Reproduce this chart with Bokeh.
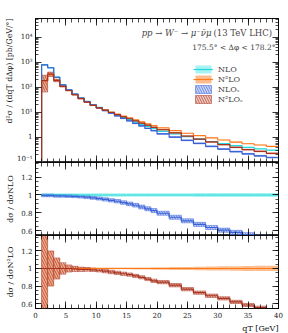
from bokeh.plotting import figure
from bokeh.layouts import column
from bokeh.models import (Range1d, LogAxis, LinearAxis, FixedTicker, CustomJSTickFormatter,
                          Label, Legend, LegendItem, Title)
from bokeh.embed import file_html
from bokeh.resources import INLINE

# ---------------- data ----------------
edges = [1, 2, 3, 4, 5, 6, 7, 8, 9, 10, 11, 12, 13, 14, 15, 16, 17, 18, 19, 20,
         22, 24, 26, 28, 30, 32, 34, 36, 38, 40]

nlo = [800, 610, 255, 127, 80, 54, 38, 27.5, 20.5, 15.8, 12.5, 10.0, 7.8, 6.3, 5.1,
       4.1, 3.35, 2.75, 2.25, 1.75, 1.37, 1.08, 0.86, 0.69, 0.57, 0.47, 0.40, 0.35, 0.31]
n2lo = [185, 340, 190, 110, 75, 51, 36, 26, 19.5, 15.5, 12.7, 10.3, 8.5, 7.1, 6.0,
        5.0, 4.15, 3.5, 2.95, 2.4, 1.87, 1.47, 1.18, 0.96, 0.79, 0.65, 0.56, 0.50, 0.44]

ratio_nlo_s = [0.995, 0.995, 0.99, 0.99, 0.988, 0.985, 0.98, 0.975, 0.968, 0.96, 0.95,
               0.94, 0.93, 0.915, 0.90, 0.885, 0.865, 0.845, 0.825, 0.795, 0.75, 0.71,
               0.67, 0.635, 0.605, 0.58, 0.555, 0.53, 0.51]
ratio_n2lo_s = [1.0, 1.0, 1.0, 1.0, 1.0, 0.995, 0.99, 0.99, 0.985, 0.98, 0.97, 0.96,
                0.95, 0.94, 0.93, 0.915, 0.90, 0.88, 0.86, 0.845, 0.81, 0.765, 0.725,
                0.69, 0.66, 0.62, 0.585, 0.555, 0.525]

rel_nlo = [0.02, 0.02, 0.02, 0.02, 0.02, 0.02, 0.02, 0.02, 0.02, 0.02, 0.02, 0.02, 0.02,
           0.02, 0.02, 0.02, 0.02, 0.02, 0.02, 0.02, 0.02, 0.02, 0.022, 0.022, 0.022,
           0.022, 0.022, 0.022, 0.022]
rel_n2lo = [0.6, 0.2, 0.11, 0.05, 0.03, 0.02, 0.015, 0.012, 0.01, 0.01, 0.01, 0.01, 0.01,
            0.01, 0.01, 0.012, 0.012, 0.012, 0.014, 0.015, 0.016, 0.018, 0.02, 0.022,
            0.024, 0.026, 0.028, 0.03, 0.03]
rel_nlo_s = [0.015, 0.015, 0.015, 0.015, 0.015, 0.015, 0.015, 0.016, 0.017, 0.018, 0.019,
             0.02, 0.021, 0.022, 0.023, 0.024, 0.025, 0.026, 0.027, 0.028, 0.03, 0.032,
             0.034, 0.036, 0.038, 0.04, 0.04, 0.04, 0.04]
rel_n2lo_s = [0.65, 0.2, 0.12, 0.065, 0.04, 0.03, 0.025, 0.022, 0.02, 0.02, 0.02, 0.02,
              0.02, 0.02, 0.02, 0.02, 0.02, 0.02, 0.022, 0.022, 0.024, 0.025, 0.026,
              0.027, 0.028, 0.03, 0.03, 0.03, 0.03]

x_ticks = [0, 5, 10, 15, 20, 25, 30, 35, 40]
main_ticks = [0.1, 1, 10, 100, 1000, 10000]
ratio_ticks = [0.6, 0.8, 1.0, 1.2]

legend_labels = ["NLO", "N²LO", "NLOₛ", "N²LOₛ"]
title_italic = "pp → W⁻ → μ⁻ν̄μ"
title_roman = "(13 TeV LHC)"
cut_text = "175.5° < Δφ < 178.2°"
ylab_main = "d²σ / (dqT dΔφ) [pb/GeV/°]"
ylab_r1 = "dσ / dσNLO"
ylab_r2 = "dσ / dσN²LO"
xlab = "qT [GeV]"

# ---------------- style ----------------
FONT = "DejaVu Serif"
C_NLO, C_NLO_F = "#22d8d8", "#8ff0f0"
C_N2LO, C_N2LO_F = "#ff7a1a", "#fbb27a"
C_NLOS, C_NLOS_F = "#3a62d8", "#9fb4f0"
C_N2LOS, C_N2LOS_F = "#a8321e", "#e6a08e"

left = edges[:-1]
right = edges[1:]


def step_xy(vals, floor=None):
    xs, ys = [], []
    if floor is not None:
        xs.append(edges[0]); ys.append(floor)
    for i, v in enumerate(vals):
        xs += [edges[i], edges[i + 1]]
        ys += [v, v]
    return xs, ys


x_range = Range1d(0, 40)
log_fmt = CustomJSTickFormatter(code="""
const e = Math.round(Math.log10(tick));
if (e == 0) return "1";
const sup = {"-":"\u207b","0":"\u2070","1":"\u00b9","2":"\u00b2","3":"\u00b3","4":"\u2074",
             "5":"\u2075","6":"\u2076","7":"\u2077","8":"\u2078","9":"\u2079"};
return "10" + String(e).split("").map(c => sup[c]).join("");
""")
lin_fmt = CustomJSTickFormatter(code="return String(Number(tick.toFixed(2)));")
blank_fmt = CustomJSTickFormatter(code="return '';")
x_ticker = FixedTicker(ticks=x_ticks, minor_ticks=list(range(0, 41)))
main_ticker = FixedTicker(ticks=main_ticks,
                          minor_ticks=[m * 10 ** e for e in range(-1, 5) for m in range(2, 10)])
ratio_ticker = FixedTicker(ticks=ratio_ticks,
                           minor_ticks=[round(0.55 + 0.05 * i, 2) for i in range(17)])


def style_axis(ax, labels=True, major=6, minor=3):
    ax.axis_line_color = "black"
    ax.axis_line_width = 0.8
    ax.major_tick_in = major
    ax.major_tick_out = 0
    ax.minor_tick_in = minor
    ax.minor_tick_out = 0
    ax.major_tick_line_width = 0.8
    ax.minor_tick_line_width = 0.7
    ax.major_label_text_font = FONT
    ax.major_label_text_font_size = "7px"
    ax.major_label_text_color = "#222222"
    ax.major_label_standoff = 3
    ax.axis_label_text_font = FONT
    ax.axis_label_text_font_style = "normal"
    ax.axis_label_text_font_size = "8px"
    ax.axis_label_text_color = "#111111"
    ax.axis_label_standoff = 3
    if not labels:
        ax.formatter = blank_fmt
        ax.major_label_text_font_size = "1px"
        ax.major_label_standoff = 0


def make_title(text, align, size):
    return Title(text=text, align=align, text_font=FONT, text_font_size=size,
                 text_font_style="normal", text_color="#111111", standoff=2, offset=0)


def make_fig(height, y_range, y_type, b_top, b_bottom):
    p = figure(width=288, height=height, x_range=x_range, y_range=y_range,
               y_axis_type=y_type, output_backend="svg", toolbar_location=None,
               min_border_left=35, min_border_right=10,
               min_border_top=b_top, min_border_bottom=b_bottom)
    p.xgrid.visible = False
    p.ygrid.visible = False
    p.outline_line_color = "black"
    p.outline_line_width = 0.8
    return p


def add_axes(p, yticker, yfmt, logy, xlabels):
    p.xaxis.ticker = x_ticker
    style_axis(p.xaxis[0], labels=xlabels, major=7, minor=4)
    p.yaxis.ticker = yticker
    p.yaxis.formatter = yfmt
    style_axis(p.yaxis[0])
    top = LinearAxis(ticker=x_ticker)
    style_axis(top, labels=False, major=7, minor=4)
    p.add_layout(top, "above")
    r = LogAxis(ticker=yticker) if logy else LinearAxis(ticker=yticker)
    style_axis(r, labels=False)
    p.add_layout(r, "right")


# ---------------- main panel ----------------
p1 = make_fig(162, Range1d(0.1, 5.6e4), "log", 18, 0)
add_axes(p1, main_ticker, log_fmt, True, False)
p1.add_layout(make_title(ylab_main, "right", "7.8px"), "left")

nlo_s = [a * b for a, b in zip(nlo, ratio_nlo_s)]
n2lo_s = [a * b for a, b in zip(n2lo, ratio_n2lo_s)]

b_nlo = p1.quad(left=left, right=right, bottom=[v * (1 - e) for v, e in zip(nlo, rel_nlo)],
                top=[v * (1 + e) for v, e in zip(nlo, rel_nlo)],
                fill_color=C_NLO_F, fill_alpha=0.8, line_color=None)
b_n2lo = p1.quad(left=left, right=right, bottom=[v * (1 - e) for v, e in zip(n2lo, rel_n2lo)],
                 top=[v * (1 + e) for v, e in zip(n2lo, rel_n2lo)],
                 fill_color=C_N2LO_F, fill_alpha=0.85, line_color=None)
b_nlos = p1.quad(left=left, right=right, bottom=[v * (1 - e) for v, e in zip(nlo_s, rel_nlo_s)],
                 top=[v * (1 + e) for v, e in zip(nlo_s, rel_nlo_s)],
                 fill_color=C_NLOS_F, fill_alpha=0.5, line_color=C_NLOS, line_width=0.5,
                 hatch_pattern="\\", hatch_color=C_NLOS, hatch_scale=5, hatch_weight=0.7)
b_n2los = p1.quad(left=left, right=right, bottom=[v * (1 - e) for v, e in zip(n2lo_s, rel_n2lo_s)],
                  top=[v * (1 + e) for v, e in zip(n2lo_s, rel_n2lo_s)],
                  fill_color=C_N2LOS_F, fill_alpha=0.5, line_color=C_N2LOS, line_width=0.5,
                  hatch_pattern="\\", hatch_color=C_N2LOS, hatch_scale=5, hatch_weight=0.7)

xs, ys = step_xy(nlo, 1e-3)
l_nlo = p1.line(xs, ys, line_color=C_NLO, line_width=1.2)
xs, ys = step_xy(n2lo, 1e-3)
l_n2lo = p1.line(xs, ys, line_color=C_N2LO, line_width=1.2)
xs, ys = step_xy(nlo_s, 1e-3)
l_nlos = p1.line(xs, ys, line_color=C_NLOS, line_width=1.2)
xs, ys = step_xy(n2lo_s, 1e-3)
l_n2los = p1.line(xs, ys, line_color=C_N2LOS, line_width=1.2)

legend = Legend(items=[
    LegendItem(label=legend_labels[0], renderers=[b_nlo, l_nlo]),
    LegendItem(label=legend_labels[1], renderers=[b_n2lo, l_n2lo]),
    LegendItem(label=legend_labels[2], renderers=[b_nlos]),
    LegendItem(label=legend_labels[3], renderers=[b_n2los]),
], location=(158, 58), orientation="vertical")
legend.background_fill_alpha = 0
legend.border_line_color = None
legend.padding = 0
legend.margin = 0
legend.spacing = 0
legend.glyph_width = 20
legend.glyph_height = 10
legend.label_height = 10
legend.label_standoff = 5
legend.label_text_font = FONT
legend.label_text_font_size = "8px"
legend.label_text_baseline = "middle"
p1.add_layout(legend, "center")

p1.add_layout(Label(x=176, y=130, x_units="screen", y_units="screen", text=title_italic,
                    text_align="right", text_baseline="middle", text_font=FONT,
                    text_font_size="8.5px", text_font_style="italic"))
p1.add_layout(Label(x=178, y=130, x_units="screen", y_units="screen", text=title_roman,
                    text_align="left", text_baseline="middle", text_font=FONT,
                    text_font_size="8.5px"))
p1.add_layout(Label(x=240, y=115, x_units="screen", y_units="screen", text=cut_text,
                    text_align="right", text_baseline="middle", text_font=FONT,
                    text_font_size="7.5px"))

# ---------------- ratio panel 1 (NLO) ----------------
p2 = make_fig(73, Range1d(0.545, 1.365), "linear", 0, 0)
add_axes(p2, ratio_ticker, lin_fmt, False, False)
p2.yaxis[0].axis_label = ylab_r1
p2.quad(left=left, right=right, bottom=[1 - e for e in rel_nlo], top=[1 + e for e in rel_nlo],
        fill_color=C_NLO_F, fill_alpha=0.8, line_color=None)
p2.quad(left=left, right=right, bottom=[r * (1 - e) for r, e in zip(ratio_nlo_s, rel_nlo_s)],
        top=[r * (1 + e) for r, e in zip(ratio_nlo_s, rel_nlo_s)],
        fill_color=C_NLOS_F, fill_alpha=0.5, line_color=C_NLOS, line_width=0.5,
        hatch_pattern="\\", hatch_color=C_NLOS, hatch_scale=5, hatch_weight=0.7)
xs, ys = step_xy([1.0] * len(nlo))
p2.line(xs, ys, line_color=C_NLO, line_width=1.2)
xs, ys = step_xy(ratio_nlo_s)
p2.line(xs, ys, line_color=C_NLOS, line_width=1.2)

# ---------------- ratio panel 2 (N2LO) ----------------
p3 = make_fig(98, Range1d(0.545, 1.375), "linear", 0, 25)
add_axes(p3, ratio_ticker, lin_fmt, False, True)
p3.yaxis[0].axis_label = ylab_r2
p3.add_layout(make_title(xlab, "right", "8px"), "below")
p3.quad(left=left, right=right, bottom=[1 - e for e in rel_n2lo], top=[1 + e for e in rel_n2lo],
        fill_color=C_N2LO_F, fill_alpha=0.85, line_color=None)
p3.quad(left=left, right=right, bottom=[r * (1 - e) for r, e in zip(ratio_n2lo_s, rel_n2lo_s)],
        top=[r * (1 + e) for r, e in zip(ratio_n2lo_s, rel_n2lo_s)],
        fill_color=C_N2LOS_F, fill_alpha=0.5, line_color=C_N2LOS, line_width=0.5,
        hatch_pattern="\\", hatch_color=C_N2LOS, hatch_scale=5, hatch_weight=0.7)
xs, ys = step_xy([1.0] * len(n2lo))
p3.line(xs, ys, line_color=C_N2LO, line_width=1.2)
xs, ys = step_xy(ratio_n2lo_s)
p3.line(xs, ys, line_color=C_N2LOS, line_width=1.2)

layout = column(p1, p2, p3, spacing=0)
open("out.html", "w").write(file_html(layout, INLINE))
